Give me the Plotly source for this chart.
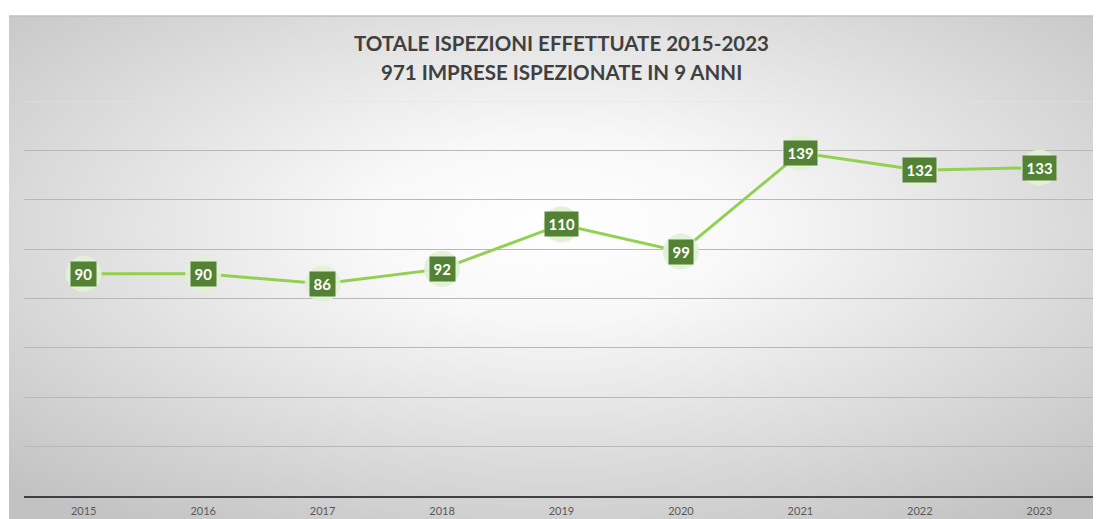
import base64
import plotly.graph_objects as go

years = ["2015", "2016", "2017", "2018", "2019", "2020", "2021", "2022", "2023"]
inspections = [90, 90, 86, 92, 110, 99, 139, 132, 133]
title_lines = ["TOTALE ISPEZIONI EFFETTUATE 2015-2023", "971 IMPRESE ISPEZIONATE IN 9 ANNI"]

OFF = 8  # page body margin
W, H = 1101 - OFF, 519 - OFF
L, R, T, B = 24 - OFF, 2, 101 - OFF, 23
pw, ph = W - L - R, H - T - B

svg = (
    "<svg xmlns='http://www.w3.org/2000/svg' width='1092' height='503' preserveAspectRatio='none'>"
    "<defs><radialGradient id='g' cx='50%' cy='42%' r='72%'>"
    "<stop offset='0' stop-color='#ffffff'/>"
    "<stop offset='0.25' stop-color='#f8f8f8'/>"
    "<stop offset='1' stop-color='#c2c2c2'/>"
    "</radialGradient></defs>"
    "<rect width='1092' height='503' fill='url(#g)'/></svg>"
)
src = "data:image/svg+xml;base64," + base64.b64encode(svg.encode()).decode()

def px_x(x):  # page pixel -> paper
    return (x - OFF - L) / pw

def px_y(y):
    return (H - B - (y - OFF)) / ph

fig = go.Figure()
fig.add_trace(go.Scatter(
    x=years, y=inspections, mode="lines+markers",
    line=dict(color="#92d050", width=3),
    marker=dict(size=36, color="rgba(226,240,215,0.95)", line=dict(width=0)),
    hoverinfo="x+y", showlegend=False,
))

for i, v in enumerate(inspections):
    fig.add_annotation(
        x=i, y=v, xref="x", yref="y", text=f"<b>{v}</b>", showarrow=False,
        font=dict(family="Lato, 'Open Sans', sans-serif", size=15, color="white"),
        bgcolor="#548235", borderpad=3.5, height=17,
    )

for txt, yy in zip(title_lines, [43, 72]):
    fig.add_annotation(
        x=0.5, y=px_y(yy), xref="paper", yref="paper", showarrow=False,
        text=f"<b>{txt}</b>", yanchor="middle",
        font=dict(family="Lato, 'Open Sans', sans-serif", size=20.5, color="#404040"),
    )

fig.add_shape(type="line", xref="paper", yref="paper",
              x0=px_x(9), x1=px_x(1101), y0=px_y(16), y1=px_y(16),
              line=dict(color="#bfbfbf", width=1.5), layer="below")
# faint top gridline (160)
fig.add_shape(type="line", xref="paper", yref="y", x0=0, x1=1, y0=160, y1=160,
              line=dict(color="#e4e4e4", width=1), layer="below")

fig.update_layout(
    width=W, height=H,
    margin=dict(l=L, r=R, t=T, b=B),
    paper_bgcolor="white", plot_bgcolor="rgba(0,0,0,0)",
    images=[dict(source=src, xref="paper", yref="paper",
                 x=px_x(9), y=px_y(16), sizex=(1101 - 9) / pw, sizey=(519 - 16) / ph,
                 xanchor="left", yanchor="top", sizing="stretch", layer="below")],
    xaxis=dict(type="category", showgrid=False, showline=True, linecolor="#404040",
               linewidth=2, ticks="", ticklabelstandoff=4,
               tickfont=dict(family="Lato, sans-serif", size=11, color="#595959"),
               range=[-0.5, 8.5], fixedrange=True),
    yaxis=dict(range=[0, 160], dtick=20, showgrid=True, gridcolor="#b8b8b8", gridwidth=1,
               showticklabels=False, zeroline=False, ticks="", fixedrange=True),
)

fig.write_html("out.html")
